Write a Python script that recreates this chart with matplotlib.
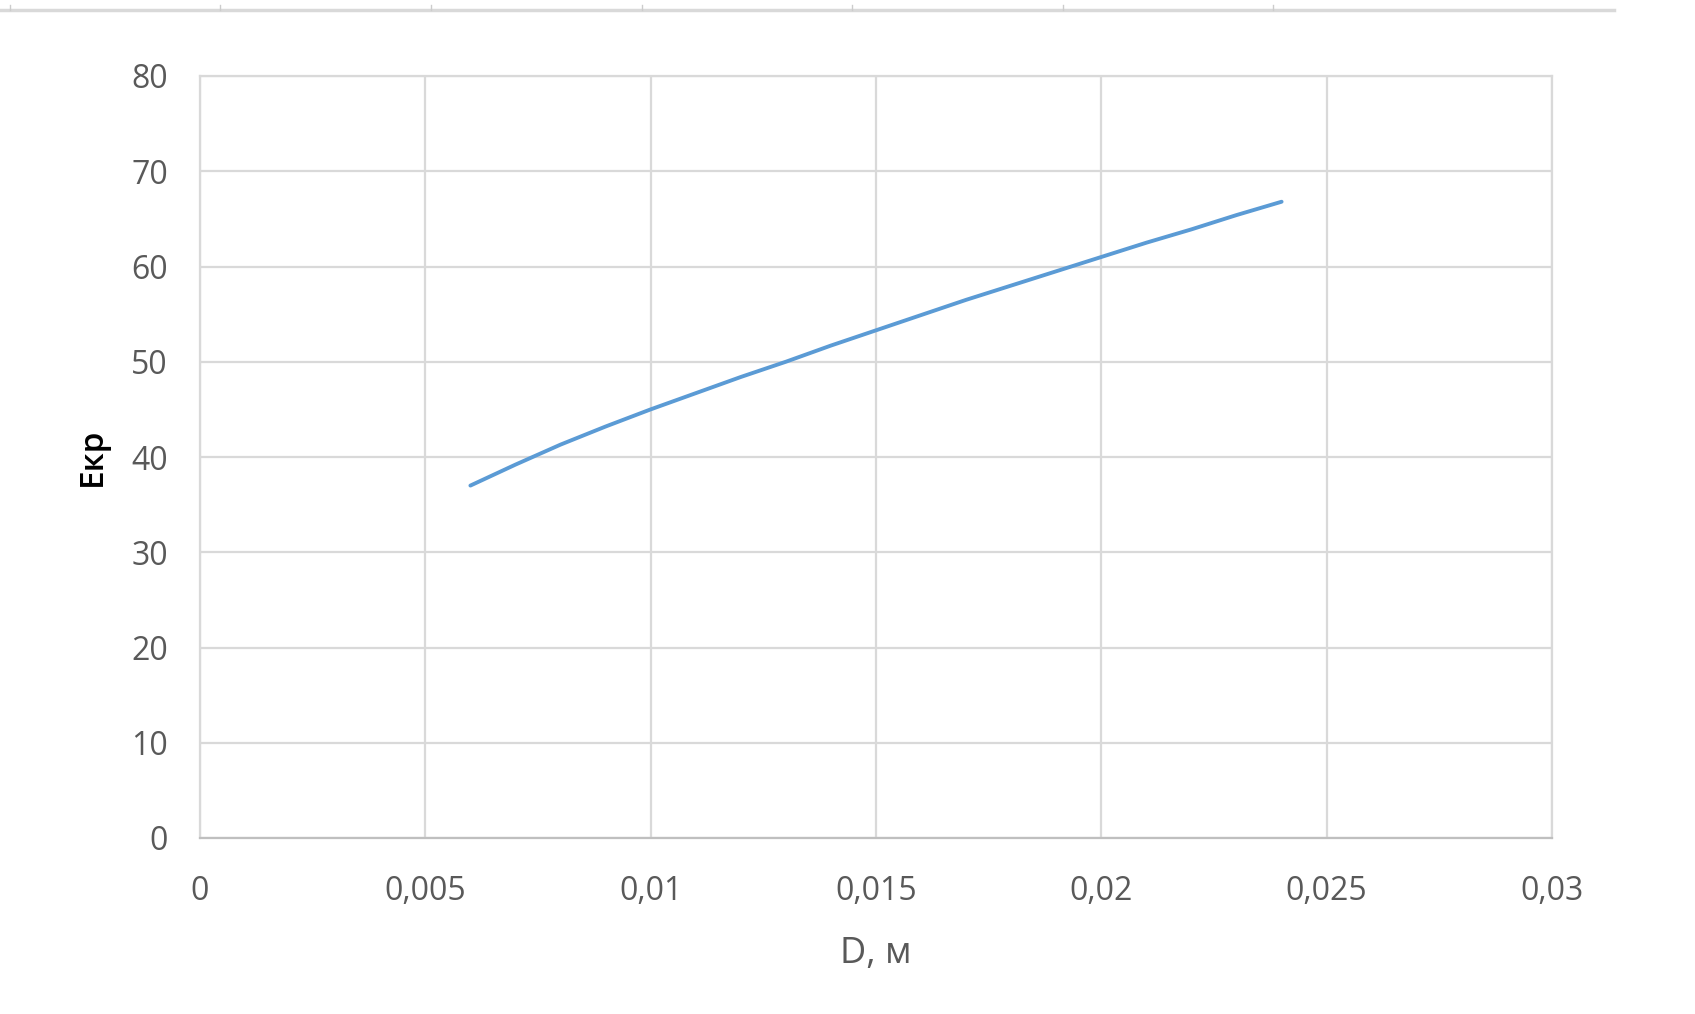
import numpy as np
import matplotlib
matplotlib.use('Agg')
import matplotlib.pyplot as plt
from matplotlib.lines import Line2D
from matplotlib.ticker import FuncFormatter

# Values
diameter = [0.006, 0.007, 0.008, 0.009, 0.010, 0.011, 0.012, 0.013, 0.014, 0.015,
            0.016, 0.017, 0.018, 0.019, 0.020, 0.021, 0.022, 0.023, 0.024]
e_kr = [37.0, 39.2, 41.3, 43.2, 45.0, 46.7, 48.4, 50.0, 51.7, 53.3,
        54.9, 56.5, 58.0, 59.5, 61.0, 62.5, 63.9, 65.4, 66.8]

x_ticks = [0, 0.005, 0.01, 0.015, 0.02, 0.025, 0.03]
y_ticks = [0, 10, 20, 30, 40, 50, 60, 70, 80]

plt.rcParams['font.family'] = ['Open Sans', 'DejaVu Sans']

grid_col = '#d9d9d9'
text_col = '#595959'

fig = plt.figure(figsize=(16.95, 10.14), dpi=100)
ax = fig.add_axes([200 / 1695, 1 - 838 / 1014, 1352 / 1695, 762 / 1014])

ax.plot(diameter, e_kr, color='#5b9bd5', linewidth=2.8, solid_capstyle='round',
        solid_joinstyle='round')

ax.set_xlim(0, 0.03)
ax.set_ylim(0, 80)
ax.set_xticks(x_ticks)
ax.set_yticks(y_ticks)
ax.xaxis.set_major_formatter(FuncFormatter(lambda v, _: ('%g' % v).replace('.', ',')))
ax.grid(True, color=grid_col, linewidth=1.6)
ax.set_axisbelow(True)
for s in ax.spines.values():
    s.set_color(grid_col)
    s.set_linewidth(1.6)
ax.spines['bottom'].set_color('#bfbfbf')
ax.tick_params(length=0, labelsize=23, colors=text_col)
ax.tick_params(axis='y', pad=23)
ax.tick_params(axis='x', pad=27)

ax.set_xlabel('D, м', fontsize=26, color=text_col, labelpad=20)
ax.set_ylabel('Екр', fontsize=24, color='black', fontweight='semibold', labelpad=16)

# thin ruler strip along the top of the screenshot
fig.add_artist(Line2D([0, 1614 / 1695], [1 - 9.5 / 1014] * 2, color='#d9d9d9', linewidth=2.5))
for tx in [10, 220, 431, 642, 852, 1063, 1273]:
    fig.add_artist(Line2D([tx / 1695] * 2, [1 - 9.5 / 1014, 1 - 5 / 1014], color='#cccccc', linewidth=1))

fig.savefig('out.png', dpi=100)
